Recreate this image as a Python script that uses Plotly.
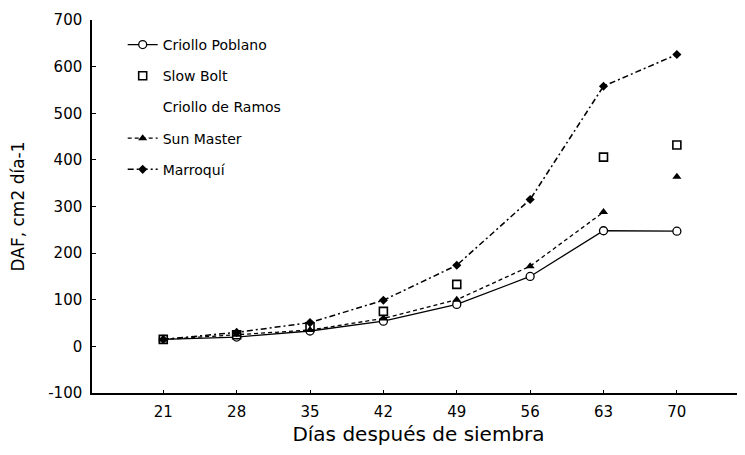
import plotly.graph_objects as go

days = [21, 28, 35, 42, 49, 56, 63, 70]
criollo_poblano = [15, 20, 33, 54, 90, 150, 248, 247]
slow_bolt = [15, 25, 42, 75, 133, None, 406, 432]
criollo_de_ramos = [None, None, None, None, None, None, None, None]
sun_master = [15, 25, 35, 60, 100, 172, 288, 364]
marroqui = [15, 30, 51, 99, 174, 315, 558, 626]

y_ticks = [-100, 0, 100, 200, 300, 400, 500, 600, 700]
y_labels = ["-100", "0", "100", "200", "300", "400", "500", "600", "700"]

FONT = "DejaVu Sans"
fig = go.Figure()

fig.add_trace(go.Scatter(
    x=days, y=criollo_poblano, name="Criollo Poblano", mode="lines+markers",
    legendgroup="a",
    line=dict(color="black", width=1.3),
    marker=dict(symbol="circle", size=8, color="white", line=dict(color="black", width=1.3)),
))
fig.add_trace(go.Scatter(
    x=days, y=slow_bolt, name="Slow Bolt", mode="markers",
    legendgroup="b",
    marker=dict(symbol="square", size=8, color="white", line=dict(color="black", width=1.6)),
))
fig.add_trace(go.Scatter(
    x=days, y=criollo_de_ramos, name="Criollo de Ramos", mode="lines",
    legendgroup="c",
    line=dict(color="rgba(0,0,0,0)", width=1),
))
fig.add_trace(go.Scatter(
    x=days[:7], y=sun_master[:7], name="Sun Master", mode="lines+markers",
    legendgroup="d",
    line=dict(color="black", width=1.3, dash="4px,3px"),
    marker=dict(symbol="triangle-up", size=8, color="black"),
))
fig.add_trace(go.Scatter(
    x=days[7:], y=sun_master[7:], name="Sun Master", mode="markers",
    legendgroup="d", showlegend=False,
    marker=dict(symbol="triangle-up", size=8, color="black"),
))
fig.add_trace(go.Scatter(
    x=days, y=marroqui, name="Marroquí", mode="lines+markers",
    legendgroup="e",
    line=dict(color="black", width=1.5, dash="6px,3px,2px,3px"),
    marker=dict(symbol="diamond", size=7, color="black"),
))

# The page body adds an 8px offset, so the figure is sized to fill the rest.
fig.update_layout(
    width=737, height=447,
    margin=dict(l=84, r=0, t=12, b=62),
    paper_bgcolor="white", plot_bgcolor="white",
    font=dict(family=FONT, size=15, color="black"),
    legend=dict(
        x=0.047, y=0.976, xanchor="left", yanchor="top",
        traceorder="grouped", tracegroupgap=10,
        bgcolor="rgba(0,0,0,0)", borderwidth=0,
        font=dict(family=FONT, size=14, color="black"),
    ),
    showlegend=True,
)
fig.update_xaxes(
    range=[14.2, 76.5], tickvals=days, ticktext=[str(d) for d in days],
    showline=True, linecolor="black", linewidth=1.5,
    ticks="inside", ticklen=3, tickcolor="black",
    showgrid=False, zeroline=False, automargin=False,
    ticklabelstandoff=4,
    tickfont=dict(family=FONT, size=15),
    title=dict(text="Días después de siembra", font=dict(family=FONT, size=20), standoff=7),
)
fig.update_yaxes(
    range=[-100, 700], tickvals=y_ticks, ticktext=y_labels,
    showline=True, linecolor="black", linewidth=1.5,
    ticks="inside", ticklen=4, tickcolor="black",
    showgrid=False, zeroline=False, automargin=False,
    ticklabelstandoff=5,
    tickfont=dict(family=FONT, size=15),
    title=dict(text="DAF, cm2 día-1", font=dict(family=FONT, size=17), standoff=26),
)

fig.write_html("out.html")
